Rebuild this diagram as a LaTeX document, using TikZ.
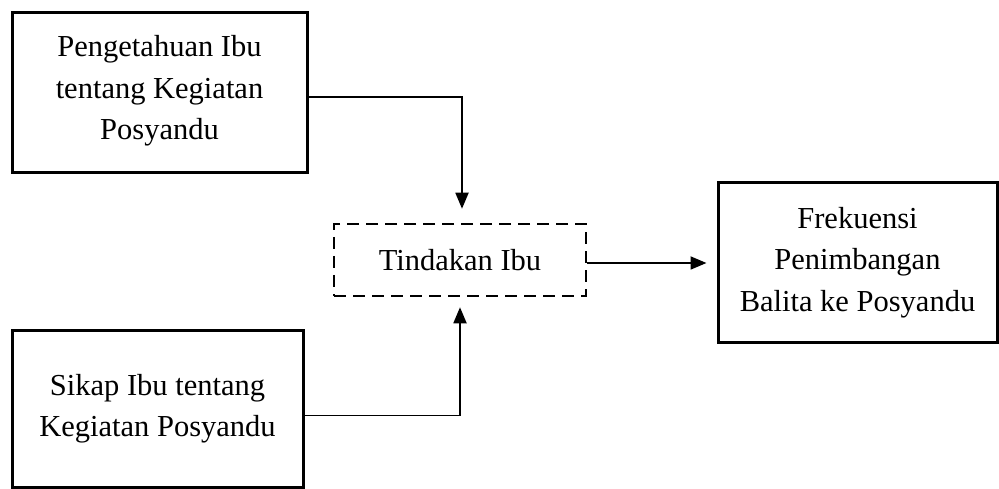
\documentclass[tikz,border=0pt]{standalone}
\usepackage{fontspec}
\setmainfont{Liberation Serif}
\usetikzlibrary{arrows.meta}
\begin{document}
\begin{tikzpicture}[x=1pt,y=-1pt,
  box/.style={draw, line width=3pt, align=center, inner sep=0pt,
    font=\fontsize{30.5}{41.5}\selectfont},
  dbox/.style={draw, line width=2.5pt, dash pattern=on 12pt off 7pt, align=center,
    inner sep=0pt, font=\fontsize{30.5}{41.5}\selectfont},
  conn/.style={line width=1.8pt, -{Triangle[length=16pt,width=13pt]}}]
\useasboundingbox (0,0) rectangle (999,489);
\node[box, minimum width=295pt, minimum height=160pt] (b1) at (159.5,93)
  {Pengetahuan Ibu\\tentang Kegiatan\\Posyandu\\[-31pt]};
\node[box, minimum width=291pt, minimum height=157pt] (b3) at (157.5,408.5)
  {Sikap Ibu tentang\\Kegiatan Posyandu};
\node[dbox, minimum width=252pt, minimum height=72pt] (tb) at (460,260)
  {Tindakan Ibu};
\node[box, minimum width=279pt, minimum height=159pt] (rb) at (857.5,262.5)
  {Frekuensi\\Penimbangan\\Balita ke Posyandu};
\draw[conn, shorten >=14pt] ([yshift=-4pt]b1.east) -| ([xshift=2pt]tb.north);
\draw[conn, shorten >=10pt] ([yshift=-7pt]b3.east) -| (tb.south);
\draw[conn, shorten >=10pt] ([yshift=-3pt]tb.east) -- ([yshift=-3pt]tb.east -| rb.west);
\end{tikzpicture}
\end{document}
